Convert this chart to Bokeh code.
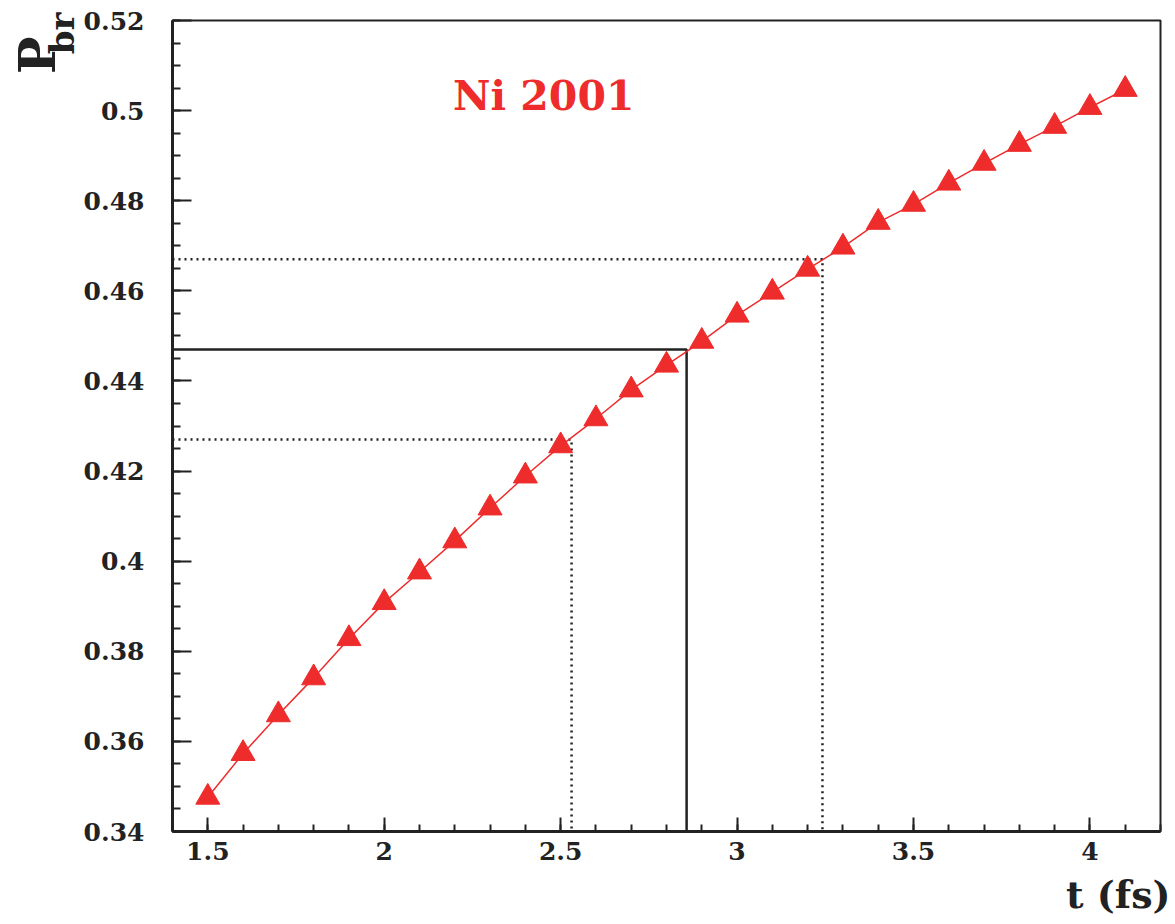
import numpy as np
from bokeh.plotting import figure
from bokeh.models import FixedTicker, Label, Range1d, Title
from bokeh.embed import file_html
from bokeh.resources import INLINE

# ---- data ----
t_fs = [1.5, 1.6, 1.7, 1.8, 1.9, 2.0, 2.1, 2.2, 2.3, 2.4, 2.5, 2.6, 2.7, 2.8,
        2.9, 3.0, 3.1, 3.2, 3.3, 3.4, 3.5, 3.6, 3.7, 3.8, 3.9, 4.0, 4.1]
p_br = [0.3476, 0.3573, 0.3659, 0.3741, 0.3828, 0.3908, 0.3976, 0.4045, 0.4118,
        0.4189, 0.4256, 0.4316, 0.4380, 0.4435, 0.4488, 0.4546, 0.4597, 0.4648,
        0.4697, 0.4752, 0.4792, 0.4839, 0.4883, 0.4925, 0.4965, 0.5007, 0.5047]

# reference values: lower bound, central, upper bound
ref_t = [2.531, 2.857, 3.242]
ref_p = [0.427, 0.447, 0.467]

x_ticks = [1.5, 2.0, 2.5, 3.0, 3.5, 4.0]
x_tick_labels = ["1.5", "2", "2.5", "3", "3.5", "4"]
y_ticks = [0.34, 0.36, 0.38, 0.40, 0.42, 0.44, 0.46, 0.48, 0.50, 0.52]
y_tick_labels = ["0.34", "0.36", "0.38", "0.4", "0.42", "0.44", "0.46", "0.48", "0.5", "0.52"]

label_text = "Ni 2001"
x_title = "t (fs)"
y_title_main = "P"
y_title_sub = "br"

RED = "#ee2c2c"
INK = "#222222"
FONT = "DejaVu Serif"

p = figure(width=1175, height=924, output_backend="svg", toolbar_location=None,
           x_range=Range1d(1.4, 4.2), y_range=Range1d(0.34, 0.52),
           min_border_left=172, min_border_right=15, min_border_top=20,
           min_border_bottom=92)
p.background_fill_color = "white"
p.border_fill_color = "white"
p.outline_line_color = INK
p.outline_line_width = 2
p.xgrid.visible = False
p.ygrid.visible = False

# axes
p.xaxis.ticker = FixedTicker(ticks=x_ticks,
                             minor_ticks=list(np.round(np.arange(1.4, 4.2001, 0.1), 3)))
p.yaxis.ticker = FixedTicker(ticks=y_ticks,
                             minor_ticks=list(np.round(np.arange(0.34, 0.52001, 0.005), 4)))
p.xaxis.major_label_overrides = {v: s for v, s in zip(x_ticks, x_tick_labels)}
p.yaxis.major_label_overrides = {v: s for v, s in zip(y_ticks, y_tick_labels)}
for ax in (p.xaxis, p.yaxis):
    ax.axis_line_color = INK
    ax.axis_line_width = 3
    ax.major_tick_line_color = INK
    ax.minor_tick_line_color = INK
    ax.major_tick_line_width = 2
    ax.minor_tick_line_width = 2
    ax.major_tick_out = 0
    ax.minor_tick_out = 0
    ax.major_label_text_font = FONT
    ax.major_label_text_font_style = "bold"
    ax.major_label_text_font_size = "25px"
    ax.major_label_text_color = INK
p.xaxis.major_tick_in = 14
p.xaxis.minor_tick_in = 7
p.yaxis.major_tick_in = 19
p.yaxis.minor_tick_in = 8
p.xaxis.major_label_standoff = 10
p.yaxis.major_label_standoff = 28

# reference lines
x0 = 1.4
y0 = 0.34
p.line([x0, ref_t[1], ref_t[1]], [ref_p[1], ref_p[1], y0], line_color=INK, line_width=2.5)
for i in (0, 2):
    p.line([x0, ref_t[i], ref_t[i]], [ref_p[i], ref_p[i], y0], line_color=INK,
           line_width=2.5, line_dash="2 4")

# data
p.line(t_fs, p_br, line_color=RED, line_width=1.5)
p.scatter(t_fs, p_br, marker="triangle", size=24, fill_color=RED, line_color=RED)

# texts
p.add_layout(Label(x=2.195, y=0.5032, text=label_text, text_color=RED, text_font=FONT,
                   text_font_style="bold", text_font_size="41px",
                   text_align="left", text_baseline="alphabetic"))

p.add_layout(Title(text=x_title, align="right", offset=-10, standoff=15,
                   text_color=INK, text_font=FONT, text_font_style="bold",
                   text_font_size="38px"), "below")
p.add_layout(Title(text=y_title_sub, align="right", offset=-8, standoff=-3,
                   text_color=INK, text_font=FONT, text_font_style="bold",
                   text_font_size="34px"), "left")
p.add_layout(Title(text=y_title_main, align="right", offset=16, standoff=-50,
                   text_color=INK, text_font=FONT, text_font_style="bold",
                   text_font_size="50px"), "left")

open("out.html", "w").write(file_html(p, INLINE))
